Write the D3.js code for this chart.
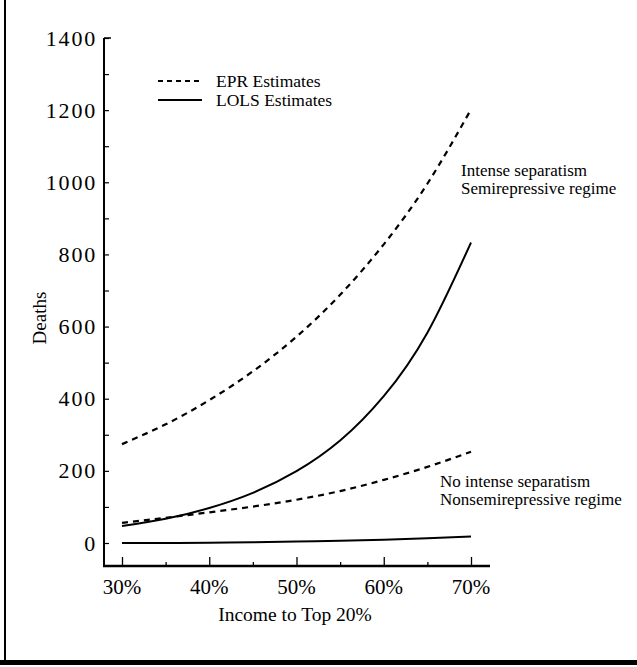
<!DOCTYPE html>
<html>
<head>
<meta charset="utf-8">
<script src="https://cdn.jsdelivr.net/npm/d3@7"></script>
<style>
	body { margin: 0; background: #fff; }
	svg { display: block; font-family: "Liberation Serif", "DejaVu Serif", serif; }
</style>
</head>
<body>
<div class="chart"></div>
<script>

// income share of top 20%
const income = [30, 35, 40, 45, 50, 55, 60, 65, 70];

const eprHigh = [274, 329, 396, 476, 572, 688, 828, 996, 1202];
const lolsHigh = [47, 67, 97, 139, 199, 284, 407, 583, 833];
const eprLow = [56, 70, 85, 101, 120, 144, 175, 211, 253];
const lolsLow = [0, 0, 1, 2, 4, 6, 9, 13, 18];

const yTicks = [0, 200, 400, 600, 800, 1000, 1200, 1400];
const xTicks = [30, 40, 50, 60, 70];

const width = 637;
const height = 667;

const svg = d3.select('.chart').append('svg')
	.attr('width', width)
	.attr('height', height);

const x = d3.scaleLinear().domain([30, 70]).range([122, 471]);
const y = d3.scaleLinear().domain([0, 1400]).range([543, 38]);

const axisLeft = 104;
const axisBottom = 566;

// page frame
svg.append('line')
	.attr('x1', 5).attr('x2', 5)
	.attr('y1', 0).attr('y2', 662)
	.attr('stroke', '#000')
	.attr('stroke-width', 2);

svg.append('rect')
	.attr('x', 0).attr('y', 660)
	.attr('width', width).attr('height', 5)
	.attr('fill', '#000');

// axes
const yAxis = d3.axisRight(y)
	.tickValues(d3.range(0, 1401, 100))
	.tickSize(5)
	.tickFormat('');

svg.append('g')
	.attr('transform', `translate(${axisLeft},0)`)
	.call(yAxis)
	.call(function(g) {
		g.select('.domain').remove();
		g.selectAll('line').attr('stroke-width', 1.2);
	});

svg.append('line')
	.attr('x1', axisLeft).attr('x2', axisLeft)
	.attr('y1', y(1400)).attr('y2', axisBottom)
	.attr('stroke', '#000')
	.attr('stroke-width', 2);

svg.append('line')
	.attr('x1', axisLeft).attr('x2', axisLeft + 7)
	.attr('y1', y(1400)).attr('y2', y(1400))
	.attr('stroke', '#000')
	.attr('stroke-width', 1.5);

svg.selectAll('.ylab')
	.data(yTicks)
	.enter()
	.append('text')
	.text(function(d) { return d; })
	.attr('x', 97)
	.attr('y', function(d) { return y(d); })
	.attr('dy', 7.5)
	.attr('text-anchor', 'end')
	.attr('font-size', 22)
	.attr('letter-spacing', 1.8)
	.attr('class', 'ylab');

const xAxis = d3.axisTop(x)
	.tickValues(d3.range(30, 71, 5))
	.tickSize(5)
	.tickFormat('');

svg.append('g')
	.attr('transform', `translate(0,${axisBottom})`)
	.call(xAxis)
	.call(function(g) {
		g.select('.domain').remove();
		g.selectAll('.tick line')
			.attr('y2', function(d) { return d % 10 === 0 ? -9 : -4; })
			.attr('stroke-width', 1.3);
	});

svg.append('line')
	.attr('x1', axisLeft - 1).attr('x2', 490)
	.attr('y1', axisBottom).attr('y2', axisBottom)
	.attr('stroke', '#000')
	.attr('stroke-width', 2.5);

svg.selectAll('.xlab')
	.data(xTicks)
	.enter()
	.append('text')
	.text(function(d) { return `${d}%`; })
	.attr('x', function(d) { return x(d); })
	.attr('y', 594)
	.attr('text-anchor', 'middle')
	.attr('font-size', 21)
	.attr('class', 'xlab');

svg.append('text')
	.text('Income to Top 20%')
	.attr('x', 295)
	.attr('y', 621)
	.attr('text-anchor', 'middle')
	.attr('font-size', 19.5);

svg.append('text')
	.text('Deaths')
	.attr('transform', 'translate(46,318) rotate(-90)')
	.attr('text-anchor', 'middle')
	.attr('font-size', 19);

// curves
const series = [
	{ values: eprHigh, dashed: true },
	{ values: lolsHigh, dashed: false },
	{ values: eprLow, dashed: true },
	{ values: lolsLow, dashed: false }
];

const line = d3.line()
	.x(function(d, i) { return x(income[i]); })
	.y(function(d) { return y(d); })
	.curve(d3.curveNatural);

svg.selectAll('.curve')
	.data(series)
	.enter()
	.append('path')
	.attr('d', function(d) { return line(d.values); })
	.attr('fill', 'none')
	.attr('stroke', '#000')
	.attr('stroke-width', function(d) { return d.dashed ? 2.2 : 2; })
	.attr('stroke-dasharray', function(d) { return d.dashed ? '6,5' : null; })
	.attr('class', 'curve');

// legend
const legend = [
	{ label: 'EPR Estimates', dashed: true },
	{ label: 'LOLS Estimates', dashed: false }
];

svg.selectAll('.legline')
	.data(legend)
	.enter()
	.append('line')
	.attr('x1', 158).attr('x2', 202)
	.attr('y1', function(d, i) { return 81 + i * 19; })
	.attr('y2', function(d, i) { return 81 + i * 19; })
	.attr('stroke', '#000')
	.attr('stroke-width', 1.8)
	.attr('stroke-dasharray', function(d) { return d.dashed ? '5,4' : null; })
	.attr('class', 'legline');

svg.selectAll('.legtext')
	.data(legend)
	.enter()
	.append('text')
	.text(function(d) { return d.label; })
	.attr('x', 216)
	.attr('y', function(d, i) { return 87 + i * 19; })
	.attr('font-size', 17.5)
	.attr('class', 'legtext');

// group labels
const groupLabels = [
	{ lines: ['Intense separatism', 'Semirepressive regime'], x: 461, y: 176 },
	{ lines: ['No intense separatism', 'Nonsemirepressive regime'], x: 440, y: 487 }
];

groupLabels.forEach(function(g) {
	svg.append('text')
		.attr('font-size', 17)
		.selectAll('tspan')
		.data(g.lines)
		.enter()
		.append('tspan')
		.text(function(d) { return d; })
		.attr('x', g.x)
		.attr('y', function(d, i) { return g.y + i * 18; });
});

</script>
</body>
</html>
